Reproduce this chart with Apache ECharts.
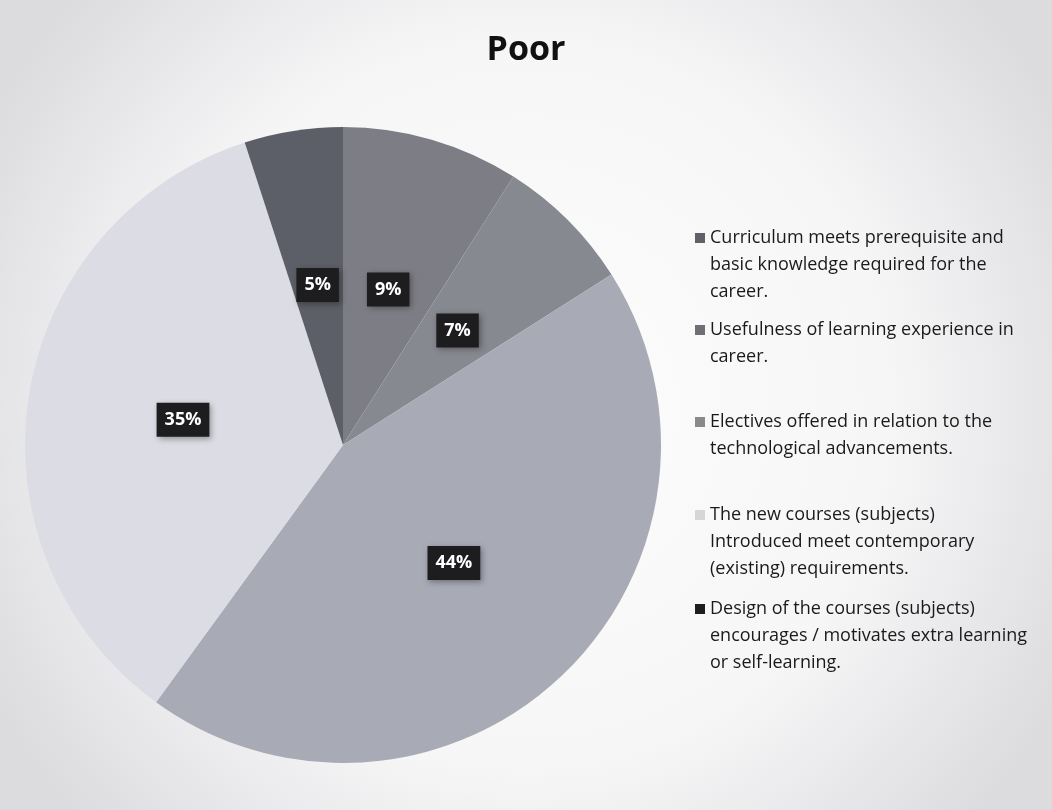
<!DOCTYPE html>
<html>
<head>
<meta charset="utf-8">
<script src="https://cdn.jsdelivr.net/npm/echarts@6/dist/echarts.min.js"></script>
<style>
html,body{margin:0;padding:0;background:#f1f1f1;}
#chart{width:1052px;height:810px;}
</style>
</head>
<body>
<div id="chart"></div>
<script>
var titleText = 'Poor';
var categories = [
  'Curriculum meets prerequisite and basic knowledge required for the career.',
  'Usefulness of learning experience in career.',
  'Electives offered in relation to the technological advancements.',
  'The new courses (subjects) Introduced meet contemporary (existing) requirements.',
  'Design of the courses (subjects) encourages / motivates extra learning or self-learning.'
];
var legendLines = [
  ['Curriculum meets prerequisite and', 'basic knowledge required for the', 'career.'],
  ['Usefulness of learning experience in', 'career.'],
  ['Electives offered in relation to the', 'technological advancements.'],
  ['The new courses (subjects)', 'Introduced meet contemporary', '(existing) requirements.'],
  ['Design of the courses (subjects)', 'encourages / motivates extra learning', 'or self-learning.']
];
var values = [9, 7, 44, 35, 5];
var colors = ['#7d7e85', '#878990', '#a8aab6', '#dcdde4', '#5c5f67'];
var legendIconColors = ['#606066', '#6f6f74', '#8a8a8d', '#d6d6d8', '#1e1e20'];

var LH = 27;
var legendIconY = [233, 325, 417, 510, 604];
var FONT = 'Open Sans';

var legends = categories.map(function (name, i) {
  var n = legendLines[i].length;
  var pre = new Array(n).join('\n');
  return {
    data: [{name: name, itemStyle: {color: legendIconColors[i]}}],
    orient: 'vertical',
    left: 690,
    top: legendIconY[i] - (2 * n - 1) * LH / 2,
    icon: 'rect',
    itemWidth: 10,
    itemHeight: 10,
    selectedMode: false,
    formatter: function () { return pre + legendLines[i].join('\n'); },
    textStyle: {
      fontFamily: FONT,
      fontSize: 18,
      lineHeight: LH,
      color: '#1a1a1a'
    }
  };
});

var chart = echarts.init(document.getElementById('chart'));
chart.setOption({
  backgroundColor: {
    type: 'radial', x: 0.5, y: 0.5, r: 0.75,
    colorStops: [
      {offset: 0, color: '#fdfdfd'},
      {offset: 0.6, color: '#f6f6f7'},
      {offset: 1, color: '#dcdcdf'}
    ]
  },
  animation: false,
  color: colors,
  title: {
    text: titleText,
    left: 'center',
    top: 28,
    textStyle: {fontFamily: FONT, fontSize: 34, fontWeight: 'bold', color: '#111'}
  },
  legend: legends,
  series: [{
    type: 'pie',
    center: [343, 445],
    radius: 318,
    startAngle: 90,
    clockwise: true,
    emphasis: {disabled: true},
    itemStyle: {borderWidth: 0},
    label: {
      show: true,
      position: 'inside',
      formatter: '{c}%',
      color: '#ffffff',
      fontFamily: FONT,
      fontSize: 18,
      fontWeight: 'bold',
      lineHeight: 20,
      backgroundColor: '#1d1d20',
      padding: [7, 8],
      shadowBlur: 6,
      shadowColor: 'rgba(0,0,0,0.35)',
      shadowOffsetX: 2,
      shadowOffsetY: 2
    },
    labelLine: {show: false},
    data: categories.map(function (c, i) { return {name: c, value: values[i]}; })
  }]
});
</script>
</body>
</html>
